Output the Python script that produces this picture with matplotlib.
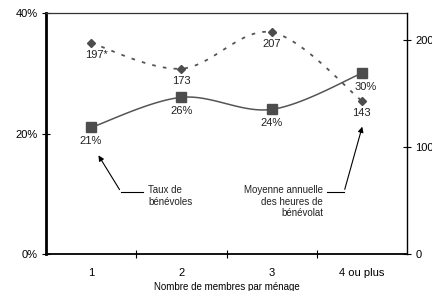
import numpy as np
import matplotlib
matplotlib.use("Agg")
import matplotlib.pyplot as plt

plt.rcParams['font.family'] = ['Liberation Sans', 'DejaVu Sans']

categories = ["1", "2", "3", "4 ou plus"]
taux = [21, 26, 24, 30]            # % de bénévoles
heures = [197, 173, 207, 143]      # heures annuelles moyennes
taux_labels = ["21%", "26%", "24%", "30%"]
heures_labels = ["197*", "173", "207", "143"]

W, H = 432, 291
fig = plt.figure(figsize=(W/100, H/100), dpi=100)
L, R, T, B = 46, 407, 13, 254
ax = fig.add_axes([L/W, 1-B/H, (R-L)/W, (B-T)/H])
ax2 = ax.twinx()

def smooth(x, y, n=40):
    x = np.asarray(x, float); y = np.asarray(y, float)
    pts = np.column_stack([x, y])
    P = np.vstack([pts[0], pts, pts[-1]])
    out = []
    for i in range(1, len(P)-2):
        p0, p1, p2, p3 = P[i-1], P[i], P[i+1], P[i+2]
        t = np.linspace(0, 1, n)[:, None]
        seg = 0.5*((2*p1) + (-p0+p2)*t + (2*p0-5*p1+4*p2-p3)*t**2 + (-p0+3*p1-3*p2+p3)*t**3)
        out.append(seg)
    s = np.vstack(out)
    return s[:, 0], s[:, 1]

xs = np.arange(len(categories))
sx, sy = smooth(xs, taux)
ax.plot(sx, sy, color='#555555', lw=1.1, zorder=3)
ax.plot(xs, taux, 's', color='#4d4d4d', ms=7, zorder=4)

hx, hy = smooth(xs, heures)
ax2.plot(hx, hy, color='#555555', lw=1.3, ls=(0, (2, 4)), zorder=3)
ax2.plot(xs, heures, 'D', color='#4d4d4d', ms=4, zorder=4)

fs = 8
for i, (v, lab) in enumerate(zip(taux, taux_labels)):
    dx = 3 if i == 3 else 0
    ax.annotate(lab, (xs[i], v), xytext=(dx, -6), textcoords='offset points',
                ha='center', va='top', fontsize=fs, color='#222222')
for i, (v, lab) in enumerate(zip(heures, heures_labels)):
    dx = 4 if lab.endswith('*') else 0
    ax2.annotate(lab, (xs[i], v), xytext=(dx, -5), textcoords='offset points',
                 ha='center', va='top', fontsize=fs, color='#222222', zorder=6)

ax.set_xlim(-0.5, len(categories)-0.5)
ax.set_ylim(0, 40)
ax2.set_ylim(0, 225)
ax.set_yticks([0, 20, 40])
ax.set_yticklabels(["0%", "20%", "40%"], fontsize=fs)
ax2.set_yticks([0, 100, 200])
ax2.set_yticklabels(["0", "100", "200"], fontsize=fs)
ax.set_xticks(xs)
ax.set_xticklabels(categories, fontsize=fs)
ax.set_xticks(np.arange(0.5, len(categories)-1, 1), minor=True)
ax.tick_params(axis='x', which='major', length=0, pad=10)
ax.tick_params(axis='x', which='minor', direction='inout', length=6, width=0.8)
ax.tick_params(axis='y', direction='inout', length=6, width=0.8, pad=3)
ax2.tick_params(axis='y', direction='inout', length=6, width=0.8, pad=3)
ax.set_xlabel("Nombre de membres par ménage", fontsize=7, labelpad=3)

ax.spines['left'].set_linewidth(2.0)
ax.spines['bottom'].set_linewidth(1.3)
ax.spines['top'].set_linewidth(0.9)
ax.spines['top'].set_color('#333333')
for s in ax2.spines.values():
    s.set_visible(False)
ax2.spines['right'].set_visible(True)
ax2.spines['right'].set_linewidth(1.0)
ax.spines['right'].set_visible(False)

# annotations (figure-pixel coordinates converted to data)
def fx(px):
    return -0.5 + (px - L) / (R - L) * len(categories)
def fy(py):
    return 40 * (B - py) / (B - T)

ax.text(fx(148), fy(185), "Taux de\nbénévoles", fontsize=7, ha='left', va='top',
        linespacing=1.2, color='#222222')
ax.plot([fx(143), fx(121)], [fy(192), fy(192)], color='black', lw=0.8)
ax.annotate('', xy=(fx(97), fy(153)), xytext=(fx(121), fy(192)),
            arrowprops=dict(arrowstyle='-|>', color='black', lw=0.8, mutation_scale=8))

ax.text(fx(323), fy(185), "Moyenne annuelle\ndes heures de\nbénévolat", fontsize=7,
        ha='right', va='top', linespacing=1.2, color='#222222')
ax.plot([fx(327), fx(344)], [fy(192), fy(192)], color='black', lw=0.8)
ax.annotate('', xy=(fx(363), fy(124)), xytext=(fx(344), fy(192)),
            arrowprops=dict(arrowstyle='-|>', color='black', lw=0.8, mutation_scale=8))

fig.savefig("out.png", dpi=100)
